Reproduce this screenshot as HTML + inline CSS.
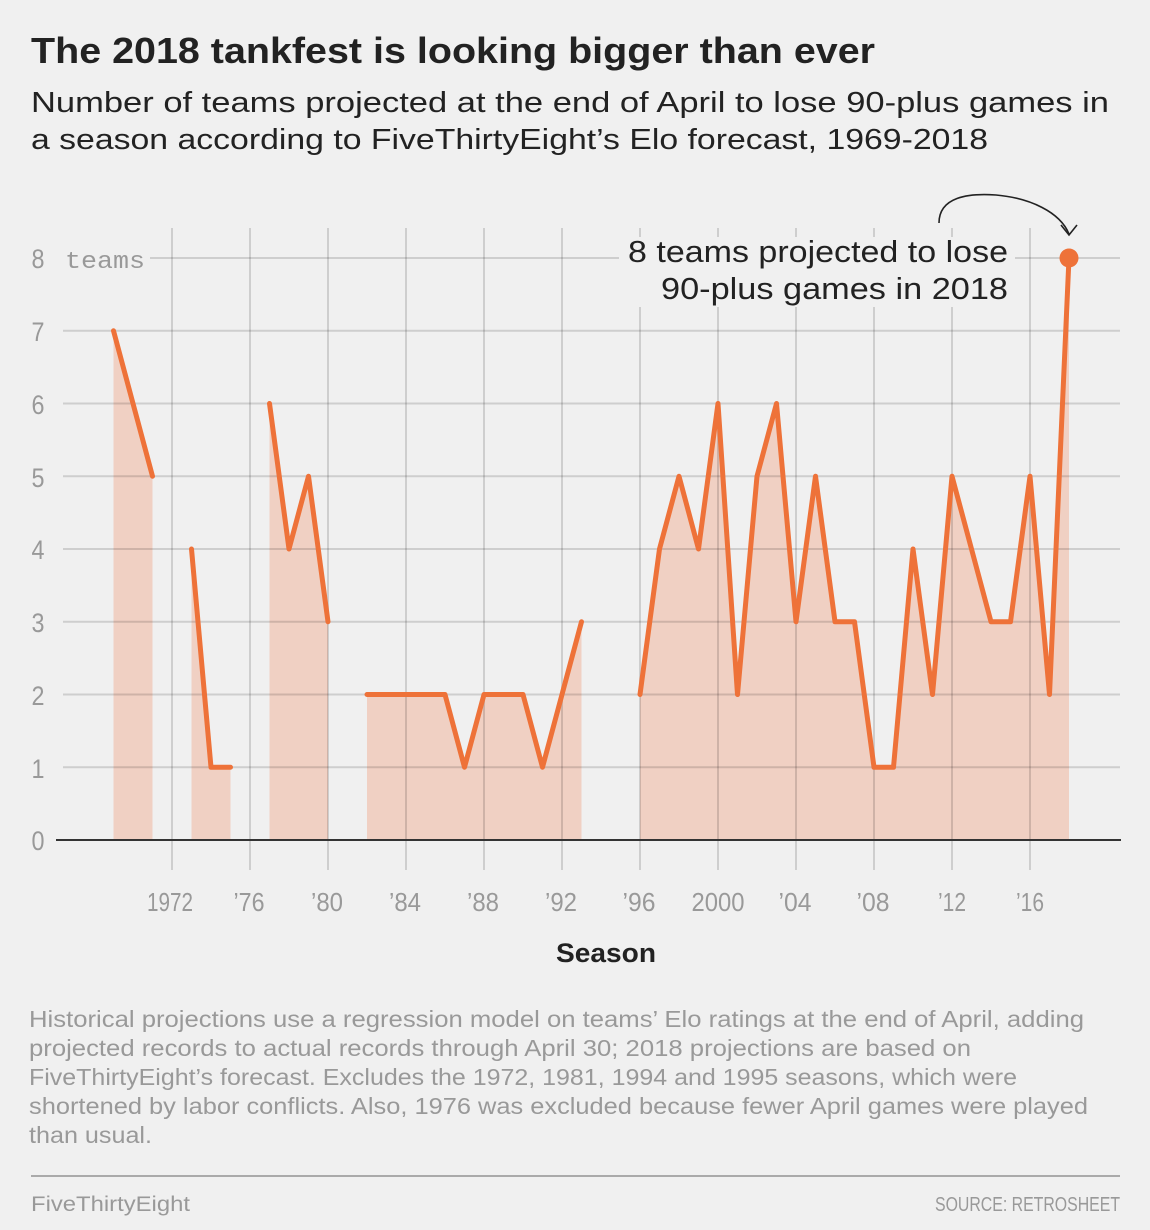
<!DOCTYPE html>
<html>
<head>
<meta charset="utf-8">
<style>
  html, body { margin: 0; padding: 0; background: #f0f0f0; }
  svg { display: block; }
  text { font-family: "Liberation Sans", "DejaVu Sans", sans-serif; }
</style>
</head>
<body>
<svg width="1150" height="1230" viewBox="0 0 1150 1230" xmlns="http://www.w3.org/2000/svg">
  <rect x="0" y="0" width="1150" height="1230" fill="#f0f0f0"/>

  <!-- Title & subtitle -->
  <text x="31" y="63" font-size="36" font-weight="bold" fill="#222" textLength="844" lengthAdjust="spacingAndGlyphs">The 2018 tankfest is looking bigger than ever</text>
  <text x="31" y="112" font-size="29" fill="#222" textLength="1078" lengthAdjust="spacingAndGlyphs">Number of teams projected at the end of April to lose 90-plus games in</text>
  <text x="31" y="149" font-size="29" fill="#222" textLength="957" lengthAdjust="spacingAndGlyphs">a season according to FiveThirtyEight’s Elo forecast, 1969-2018</text>

  <!-- Area fills -->
  <g fill="#f0d0c3">
    <polygon points="113.5,840 113.5,330.75 133,403.5 152.5,476.25 152.5,840"/>
    <polygon points="191.5,840 191.5,549 211,767.25 230.5,767.25 230.5,840"/>
    <polygon points="269.5,840 269.5,403.5 289,549 308.5,476.25 328,621.75 328,840"/>
    <polygon points="367,840 367,694.5 386.5,694.5 406,694.5 425.5,694.5 445,694.5 464.5,767.25 484,694.5 503.5,694.5 523,694.5 542.5,767.25 562,694.5 581.5,621.75 581.5,840"/>
    <polygon points="640,840 640,694.5 659.5,549 679,476.25 698.5,549 718,403.5 737.5,694.5 757,476.25 776.5,403.5 796,621.75 815.5,476.25 835,621.75 854.5,621.75 874,767.25 893.5,767.25 913,549 932.5,694.5 952,476.25 971.5,549 991,621.75 1010.5,621.75 1030,476.25 1049.5,694.5 1069,258 1069,840"/>
  </g>

  <!-- Gridlines -->
  <g stroke="rgba(0,0,0,0.14)" stroke-width="2">
    <line x1="172" y1="228" x2="172" y2="870"/>
    <line x1="250" y1="228" x2="250" y2="870"/>
    <line x1="328" y1="228" x2="328" y2="870"/>
    <line x1="406" y1="228" x2="406" y2="870"/>
    <line x1="484" y1="228" x2="484" y2="870"/>
    <line x1="562" y1="228" x2="562" y2="870"/>
    <line x1="640" y1="228" x2="640" y2="870"/>
    <line x1="718" y1="228" x2="718" y2="870"/>
    <line x1="796" y1="228" x2="796" y2="870"/>
    <line x1="874" y1="228" x2="874" y2="870"/>
    <line x1="952" y1="228" x2="952" y2="870"/>
    <line x1="1030" y1="228" x2="1030" y2="870"/>

    <line x1="150" y1="258" x2="1120" y2="258"/>
    <line x1="63" y1="330.75" x2="1120" y2="330.75"/>
    <line x1="63" y1="403.5" x2="1120" y2="403.5"/>
    <line x1="63" y1="476.25" x2="1120" y2="476.25"/>
    <line x1="63" y1="549" x2="1120" y2="549"/>
    <line x1="63" y1="621.75" x2="1120" y2="621.75"/>
    <line x1="63" y1="694.5" x2="1120" y2="694.5"/>
    <line x1="63" y1="767.25" x2="1120" y2="767.25"/>
  </g>

  <!-- Baseline -->
  <line x1="56" y1="840" x2="1121" y2="840" stroke="#333" stroke-width="2"/>

  <!-- Y labels -->
  <g fill="#999" font-size="27" text-anchor="middle">
    <text x="38" y="268" textLength="13" lengthAdjust="spacingAndGlyphs">8</text>
    <text x="38" y="341" textLength="13" lengthAdjust="spacingAndGlyphs">7</text>
    <text x="38" y="414" textLength="13" lengthAdjust="spacingAndGlyphs">6</text>
    <text x="38" y="487" textLength="13" lengthAdjust="spacingAndGlyphs">5</text>
    <text x="38" y="559" textLength="13" lengthAdjust="spacingAndGlyphs">4</text>
    <text x="38" y="632" textLength="13" lengthAdjust="spacingAndGlyphs">3</text>
    <text x="38" y="705" textLength="13" lengthAdjust="spacingAndGlyphs">2</text>
    <text x="38" y="778" textLength="13" lengthAdjust="spacingAndGlyphs">1</text>
    <text x="38" y="850" textLength="13" lengthAdjust="spacingAndGlyphs">0</text>
  </g>
  <text x="65" y="268" font-family="Liberation Mono, DejaVu Sans Mono, monospace" style="font-family:'Liberation Mono','DejaVu Sans Mono',monospace" font-size="24" fill="#999" textLength="80" lengthAdjust="spacingAndGlyphs">teams</text>

  <!-- X labels -->
  <g fill="#999" font-size="26" text-anchor="middle">
    <text x="170" y="911" textLength="46" lengthAdjust="spacingAndGlyphs">1972</text>
    <text x="249" y="911" textLength="31" lengthAdjust="spacingAndGlyphs">’76</text>
    <text x="327" y="911" textLength="32" lengthAdjust="spacingAndGlyphs">’80</text>
    <text x="405" y="911" textLength="32" lengthAdjust="spacingAndGlyphs">’84</text>
    <text x="483" y="911" textLength="32" lengthAdjust="spacingAndGlyphs">’88</text>
    <text x="561" y="911" textLength="32" lengthAdjust="spacingAndGlyphs">’92</text>
    <text x="639" y="911" textLength="33" lengthAdjust="spacingAndGlyphs">’96</text>
    <text x="718" y="911" textLength="53" lengthAdjust="spacingAndGlyphs">2000</text>
    <text x="795" y="911" textLength="33" lengthAdjust="spacingAndGlyphs">’04</text>
    <text x="873" y="911" textLength="33" lengthAdjust="spacingAndGlyphs">’08</text>
    <text x="952" y="911" textLength="28" lengthAdjust="spacingAndGlyphs">’12</text>
    <text x="1030" y="911" textLength="28" lengthAdjust="spacingAndGlyphs">’16</text>
  </g>
  <text x="606" y="962" font-size="27" font-weight="bold" fill="#222" text-anchor="middle" textLength="100" lengthAdjust="spacingAndGlyphs">Season</text>

  <!-- Series line -->
  <g fill="none" stroke="#ee7239" stroke-width="5" stroke-linejoin="round" stroke-linecap="round">
    <polyline points="113.5,330.75 133,403.5 152.5,476.25"/>
    <polyline points="191.5,549 211,767.25 230.5,767.25"/>
    <polyline points="269.5,403.5 289,549 308.5,476.25 328,621.75"/>
    <polyline points="367,694.5 386.5,694.5 406,694.5 425.5,694.5 445,694.5 464.5,767.25 484,694.5 503.5,694.5 523,694.5 542.5,767.25 562,694.5 581.5,621.75"/>
    <polyline points="640,694.5 659.5,549 679,476.25 698.5,549 718,403.5 737.5,694.5 757,476.25 776.5,403.5 796,621.75 815.5,476.25 835,621.75 854.5,621.75 874,767.25 893.5,767.25 913,549 932.5,694.5 952,476.25 971.5,549 991,621.75 1010.5,621.75 1030,476.25 1049.5,694.5 1069,258"/>
  </g>
  <circle cx="1069" cy="258" r="9.5" fill="#ee7239"/>

  <!-- Annotation -->
  <rect x="619" y="237" width="396" height="70" fill="#f0f0f0"/>
  <text x="1008" y="262" font-size="31" fill="#222" text-anchor="end" textLength="380" lengthAdjust="spacingAndGlyphs">8 teams projected to lose</text>
  <text x="1008" y="299" font-size="31" fill="#222" text-anchor="end" textLength="347" lengthAdjust="spacingAndGlyphs">90-plus games in 2018</text>
  <path d="M939,223 C939,197 968,193 996,195 C1030,198 1060,212 1069,234" fill="none" stroke="#222" stroke-width="1.6"/>
  <polyline points="1061,225 1069,235 1077,225" fill="none" stroke="#222" stroke-width="1.6"/>

  <!-- Notes -->
  <g fill="#999" font-size="23">
    <text x="29" y="1027" textLength="1055" lengthAdjust="spacingAndGlyphs">Historical projections use a regression model on teams’ Elo ratings at the end of April, adding</text>
    <text x="29" y="1056" textLength="942" lengthAdjust="spacingAndGlyphs">projected records to actual records through April 30; 2018 projections are based on</text>
    <text x="29" y="1085" textLength="988" lengthAdjust="spacingAndGlyphs">FiveThirtyEight’s forecast. Excludes the 1972, 1981, 1994 and 1995 seasons, which were</text>
    <text x="29" y="1114" textLength="1059" lengthAdjust="spacingAndGlyphs">shortened by labor conflicts. Also, 1976 was excluded because fewer April games were played</text>
    <text x="29" y="1143" textLength="123" lengthAdjust="spacingAndGlyphs">than usual.</text>
  </g>

  <!-- Footer -->
  <line x1="31" y1="1176" x2="1120" y2="1176" stroke="#aaa" stroke-width="2"/>
  <text x="31" y="1211" font-size="21" fill="#999" textLength="159" lengthAdjust="spacingAndGlyphs">FiveThirtyEight</text>
  <text x="1120" y="1211" font-size="20" fill="#999" text-anchor="end" textLength="185" lengthAdjust="spacingAndGlyphs">SOURCE: RETROSHEET</text>
</svg>
</body>
</html>
